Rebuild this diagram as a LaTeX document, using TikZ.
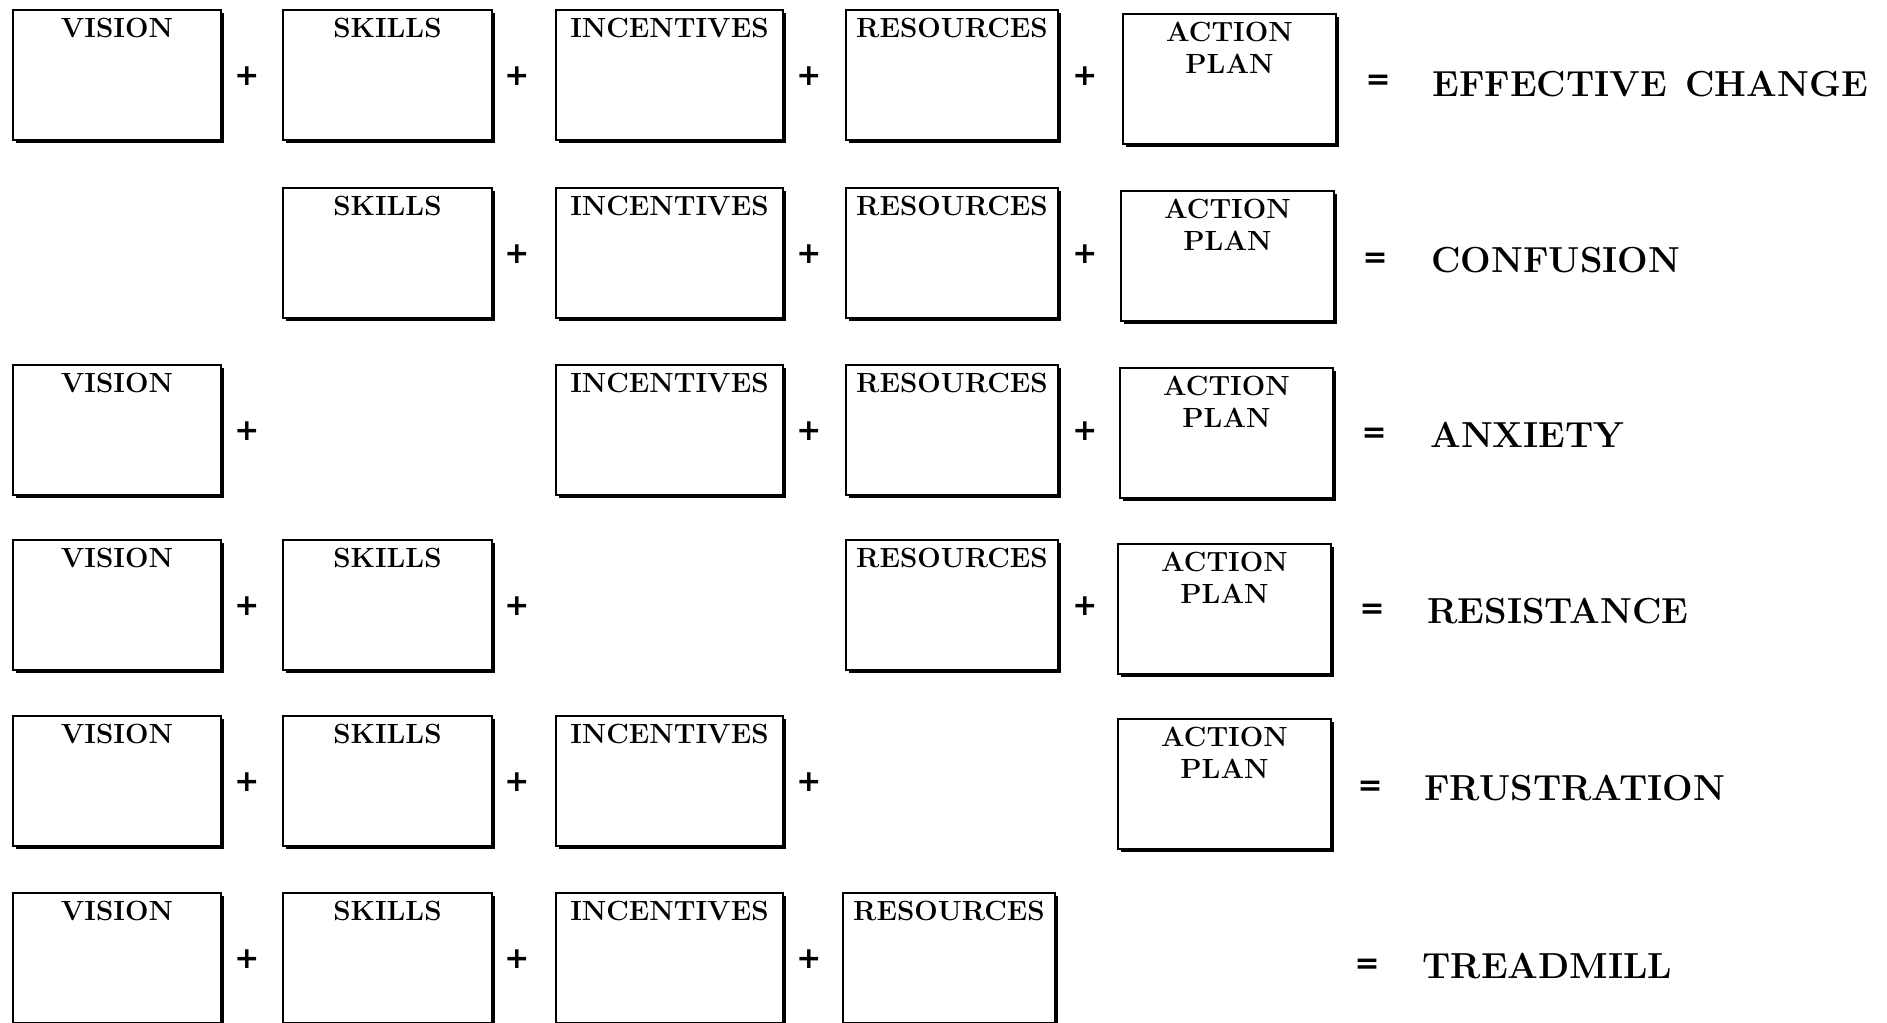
\documentclass[tikz,border=0pt]{standalone}
\usepackage{fontspec}
\usepackage{tikz}
\usetikzlibrary{shadows}
\newfontfamily\opfamily{DejaVu Sans}
\newcommand{\labfont}{\fontsize{15.8}{18.2}\selectfont\bfseries}
\newcommand{\resfont}{\fontsize{20.6}{24}\selectfont\bfseries}
\newcommand{\opfont}{\opfamily\fontsize{17}{20}\selectfont\bfseries}

\begin{document}
\begin{tikzpicture}[x=0.02cm, y=-0.02cm]
		\tikzstyle{every node}=[inner sep=0pt]
		\tikzstyle{card}=[draw, fill=white, line width=1.1pt, anchor=north west, minimum height=2.6cm,
			drop shadow={shadow xshift=1.6pt, shadow yshift=-1.6pt, fill=black, opacity=1}]
		\tikzstyle{lab}=[anchor=north, yshift=-5pt, font=\labfont, align=center]
		\tikzstyle{vis}=[card, minimum width=4.16cm, label={[lab]north:VISION}]
		\tikzstyle{ski}=[card, minimum width=4.18cm, label={[lab]north:SKILLS}]
		\tikzstyle{inc}=[card, minimum width=4.54cm, label={[lab]north:INCENTIVES}]
		\tikzstyle{res}=[card, minimum width=4.24cm, label={[lab]north:RESOURCES}]
		\tikzstyle{act}=[card, minimum width=4.26cm, label={[lab]north:{ACTION\\PLAN}}]
		\tikzstyle{op}=[font=\opfont]
		\tikzstyle{result}=[anchor=west, font=\resfont]

		\useasboundingbox (0, 0) rectangle (1887, 1022);

		% effective change
		\node[vis] (V1) at (12, 9) {};
		\node[ski] (S1) at (282, 9) {};
		\node[inc] (I1) at (555, 9) {};
		\node[res] (R1) at (845, 9) {};
		\node[act] (A1) at (1122, 13) {};
		\node[op] (p11) at (247, 76) {+};
		\node[op] (p12) at (517, 76) {+};
		\node[op] (p13) at (809, 76) {+};
		\node[op] (p14) at (1085, 76) {+};
		\node[op] (eq1) at (1378, 82) {=};
		\node[result] (Out1) at (1432, 84) {EFFECTIVE\hspace{0.5em}CHANGE};

		% confusion
		\node[ski] (S2) at (282, 187) {};
		\node[inc] (I2) at (555, 187) {};
		\node[res] (R2) at (845, 187) {};
		\node[act] (A2) at (1120, 190) {};
		\node[op] (p22) at (517, 254) {+};
		\node[op] (p23) at (809, 254) {+};
		\node[op] (p24) at (1085, 254) {+};
		\node[op] (eq2) at (1375, 260) {=};
		\node[result] (Out2) at (1431, 260) {CONFUSION};

		% anxiety
		\node[vis] (V3) at (12, 364) {};
		\node[inc] (I3) at (555, 364) {};
		\node[res] (R3) at (845, 364) {};
		\node[act] (A3) at (1119, 367) {};
		\node[op] (p31) at (247, 431) {+};
		\node[op] (p33) at (809, 431) {+};
		\node[op] (p34) at (1085, 431) {+};
		\node[op] (eq3) at (1374, 435) {=};
		\node[result] (Out3) at (1430, 435) {ANXIETY};

		% resistance
		\node[vis] (V4) at (12, 539) {};
		\node[ski] (S4) at (282, 539) {};
		\node[res] (R4) at (845, 539) {};
		\node[act] (A4) at (1117, 543) {};
		\node[op] (p41) at (247, 606) {+};
		\node[op] (p42) at (517, 606) {+};
		\node[op] (p44) at (1085, 606) {+};
		\node[op] (eq4) at (1372, 611) {=};
		\node[result] (Out4) at (1427, 611) {RESISTANCE};

		% frustration
		\node[vis] (V5) at (12, 715) {};
		\node[ski] (S5) at (282, 715) {};
		\node[inc] (I5) at (555, 715) {};
		\node[act] (A5) at (1117, 718) {};
		\node[op] (p51) at (247, 782) {+};
		\node[op] (p52) at (517, 782) {+};
		\node[op] (p53) at (809, 782) {+};
		\node[op] (eq5) at (1370, 788) {=};
		\node[result] (Out5) at (1424, 788) {FRUSTRATION};

		% treadmill
		\node[vis] (V6) at (12, 892) {};
		\node[ski] (S6) at (282, 892) {};
		\node[inc] (I6) at (555, 892) {};
		\node[res] (R6) at (842, 892) {};
		\node[op] (p61) at (247, 959) {+};
		\node[op] (p62) at (517, 959) {+};
		\node[op] (p63) at (809, 959) {+};
		\node[op] (eq6) at (1367, 966) {=};
		\node[result] (Out6) at (1422, 966) {TREADMILL};
	\end{tikzpicture}
\end{document}
